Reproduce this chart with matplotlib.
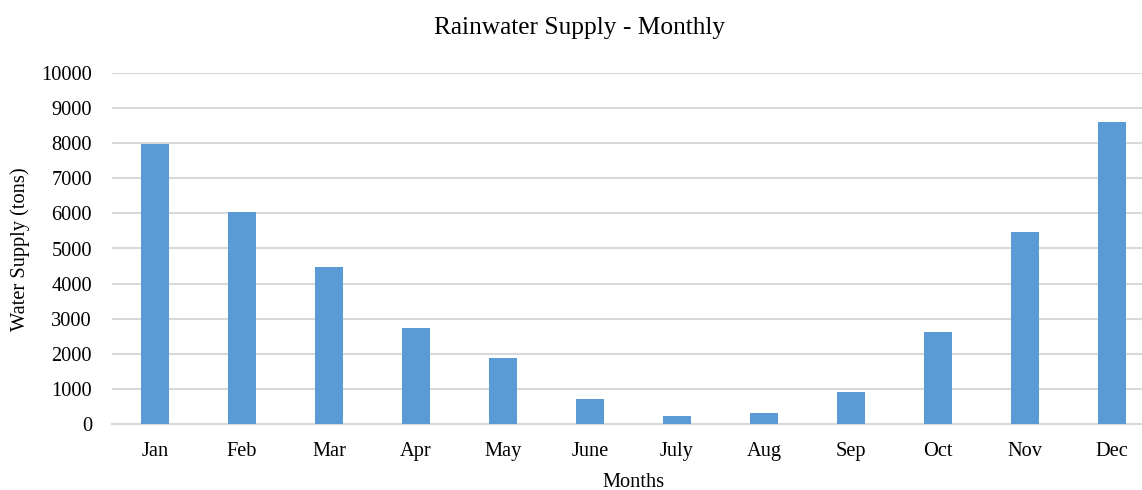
import matplotlib.pyplot as plt

# monthly rainwater supply
months = ['Jan', 'Feb', 'Mar', 'Apr', 'May', 'June', 'July', 'Aug', 'Sep', 'Oct', 'Nov', 'Dec']
supply = [7980, 6030, 4467, 2732, 1877, 700, 222, 310, 912, 2630, 5476, 8614]
yticks = list(range(0, 10001, 1000))

plt.rcParams['font.family'] = ['Liberation Serif', 'DejaVu Serif']

fig = plt.figure(figsize=(11.42, 4.9), dpi=100)
ax = fig.add_axes([111.5 / 1142, 66 / 490, 1044 / 1142, 351 / 490])

x = range(len(months))
ax.bar(x, supply, width=0.32, color='#5B9BD5', zorder=3)

ax.set_xlim(-0.5, len(months) - 0.5)
ax.set_ylim(0, 10000)
ax.set_yticks(yticks)
ax.set_xticks(list(x))
ax.set_xticklabels(months)

ax.yaxis.grid(True, color='#D9D9D9', linewidth=1.5, zorder=0)
for side in ['top', 'right', 'left']:
    ax.spines[side].set_visible(False)
ax.spines['bottom'].set_color('#D9D9D9')
ax.spines['bottom'].set_linewidth(1.5)
ax.tick_params(axis='both', length=0, labelsize=14.7, colors='black')
ax.tick_params(axis='x', pad=13)
ax.tick_params(axis='y', pad=14)

fig.text(580 / 1142, 1 - 28 / 490, 'Rainwater Supply - Monthly', ha='center', va='center', fontsize=18.3)
fig.text(20 / 1142, 1 - 249 / 490, 'Water Supply (tons)', ha='center', va='center',
         rotation=90, fontsize=14.7)
fig.text(634 / 1142, 1 - 482 / 490, 'Months', ha='center', va='center', fontsize=14.7)

fig.savefig('out.png', dpi=100, facecolor='white')
